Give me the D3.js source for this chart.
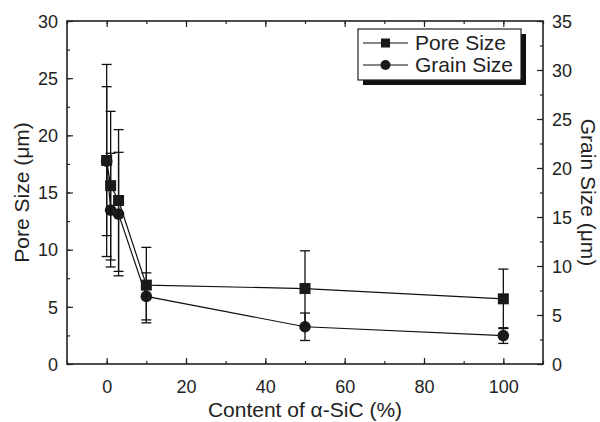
<!DOCTYPE html>
<html>
<head>
<meta charset="utf-8">
<script src="https://cdn.jsdelivr.net/npm/d3@7"></script>
<style>
  body { margin: 0; background: #fff; }
  text { font-family: Arial, "Liberation Sans", sans-serif; fill: #222; }
</style>
</head>
<body>
<div id="chart"></div>
<script>
// data
const content = [0, 1, 3, 10, 50, 100];
const poreSize = [17.8, 15.6, 14.3, 6.9, 6.6, 5.7];
const poreErr = [8.4, 6.5, 6.2, 3.3, 3.3, 2.6];
const grainSize = [20.7, 15.7, 15.3, 6.9, 3.8, 2.9];
const grainErr = [7.6, 5.8, 6.3, 2.4, 1.4, 0.8];
const xTicks = [0, 20, 40, 60, 80, 100];
const leftTicks = [0, 5, 10, 15, 20, 25, 30];
const rightTicks = [0, 5, 10, 15, 20, 25, 30, 35];

const w = 600, h = 422;
const margin = {top: 21, right: 57, bottom: 58, left: 67};
const pw = w - margin.left - margin.right;
const ph = h - margin.top - margin.bottom;

const svg = d3.select('#chart').append('svg')
  .attr('width', w)
  .attr('height', h);

const g = svg.append('g')
  .attr('transform', 'translate(' + margin.left + ',' + margin.top + ')');

const x = d3.scaleLinear().domain([-10, 110]).range([0, pw]);
const yL = d3.scaleLinear().domain([0, 30]).range([ph, 0]);
const yR = d3.scaleLinear().domain([0, 35]).range([ph, 0]);

// minor ticks (inward)
const xMinor = d3.range(-10, 111, 10);
const lMinor = d3.range(0, 30.1, 2.5);
const rMinor = d3.range(0, 35.1, 2.5);

function tickAxis(axis, ticks, minor, transform, labels) {
  const a = g.append('g').attr('transform', transform);
  a.call(axis.tickValues(minor).tickSize(-3).tickFormat(''));
  a.select('.domain').remove();
  const b = g.append('g').attr('transform', transform);
  b.call(axis.tickValues(ticks).tickSize(-6).tickPadding(9).tickFormat(labels ? d3.format('d') : ''));
  b.select('.domain').remove();
  b.selectAll('text').attr('font-size', 18).attr('fill', '#222');
  g.selectAll('.tick line').attr('stroke', '#222').attr('stroke-width', 1.2);
  return b;
}

tickAxis(d3.axisBottom(x), xTicks, xMinor, 'translate(0,' + ph + ')', true)
  .selectAll('text').attr('dy', '1.1em');
tickAxis(d3.axisTop(x), xTicks, xMinor, 'translate(0,0)', false);
tickAxis(d3.axisLeft(yL), leftTicks, lMinor, 'translate(0,0)', true)
  .selectAll('text').attr('dy', '0.35em');
tickAxis(d3.axisRight(yR), rightTicks, rMinor, 'translate(' + pw + ',0)', true)
  .selectAll('text').attr('dy', '0.35em');

// frame
g.append('rect')
  .attr('width', pw)
  .attr('height', ph)
  .attr('fill', 'none')
  .attr('stroke', '#222')
  .attr('stroke-width', 1.6);

// axis titles
svg.append('text')
  .attr('x', margin.left + pw / 2)
  .attr('y', 417)
  .attr('text-anchor', 'middle')
  .attr('font-size', 21)
  .text('Content of α-SiC (%)');

svg.append('text')
  .attr('transform', 'translate(29,' + (margin.top + ph / 2) + ') rotate(-90)')
  .attr('text-anchor', 'middle')
  .attr('font-size', 21)
  .text('Pore Size (μm)');

svg.append('text')
  .attr('transform', 'translate(581,' + (margin.top + ph / 2) + ') rotate(90)')
  .attr('text-anchor', 'middle')
  .attr('font-size', 21)
  .text('Grain Size (μm)');

// series
const grain = content.map((c, i) => ({x: c, y: grainSize[i], e: grainErr[i]}));
const pore = content.map((c, i) => ({x: c, y: poreSize[i], e: poreErr[i]}));

function drawSeries(data, y, shape) {
  const s = g.append('g');
  s.append('path')
    .datum(data)
    .attr('fill', 'none')
    .attr('stroke', '#111')
    .attr('stroke-width', 1.2)
    .attr('d', d3.line().x(d => x(d.x)).y(d => y(d.y)));

  const eb = s.selectAll('.err').data(data).enter().append('g')
    .attr('stroke', '#111')
    .attr('stroke-width', 1.3);
  eb.append('line')
    .attr('x1', d => x(d.x)).attr('x2', d => x(d.x))
    .attr('y1', d => y(d.y - d.e)).attr('y2', d => y(d.y + d.e));
  eb.append('line')
    .attr('x1', d => x(d.x) - 5).attr('x2', d => x(d.x) + 5)
    .attr('y1', d => y(d.y + d.e)).attr('y2', d => y(d.y + d.e));
  eb.append('line')
    .attr('x1', d => x(d.x) - 5).attr('x2', d => x(d.x) + 5)
    .attr('y1', d => y(d.y - d.e)).attr('y2', d => y(d.y - d.e));

  if (shape === 'square') {
    s.selectAll('rect').data(data).enter().append('rect')
      .attr('x', d => x(d.x) - 5.5).attr('y', d => y(d.y) - 5.5)
      .attr('width', 11).attr('height', 11)
      .attr('fill', '#1a1a1a');
  } else {
    s.selectAll('circle').data(data).enter().append('circle')
      .attr('cx', d => x(d.x)).attr('cy', d => y(d.y))
      .attr('r', 5.8)
      .attr('fill', '#1a1a1a');
  }
}

drawSeries(grain, yR, 'circle');
drawSeries(pore, yL, 'square');

// legend
const lx = 358 - margin.left, ly = 29 - margin.top, lw = 163, lh = 51;
g.append('rect')
  .attr('x', lx + 5).attr('y', ly + 5)
  .attr('width', lw).attr('height', lh)
  .attr('fill', '#111');
g.append('rect')
  .attr('x', lx).attr('y', ly)
  .attr('width', lw).attr('height', lh)
  .attr('fill', '#fff')
  .attr('stroke', '#222')
  .attr('stroke-width', 1.2);

const legendItems = [
  {label: 'Pore Size', shape: 'square'},
  {label: 'Grain Size', shape: 'circle'}
];
const li = g.selectAll('.leg').data(legendItems).enter().append('g')
  .attr('transform', (d, i) => 'translate(' + (lx + 5) + ',' + (ly + 14 + i * 22) + ')');
li.append('line')
  .attr('x1', 0).attr('x2', 45)
  .attr('stroke', '#111').attr('stroke-width', 1.2);
li.filter(d => d.shape === 'square').append('rect')
  .attr('x', 18).attr('y', -4.5).attr('width', 9).attr('height', 9)
  .attr('fill', '#1a1a1a');
li.filter(d => d.shape === 'circle').append('circle')
  .attr('cx', 22.5).attr('r', 5)
  .attr('fill', '#1a1a1a');
li.append('text')
  .attr('x', 52).attr('dy', '0.35em')
  .attr('font-size', 21)
  .text(d => d.label);
</script>
</body>
</html>
